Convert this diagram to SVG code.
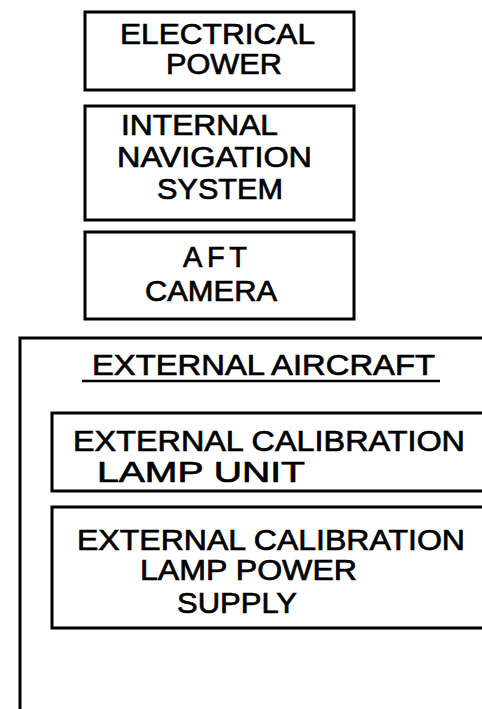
<svg xmlns="http://www.w3.org/2000/svg" width="482" height="709" viewBox="0 0 482 709">
<style>
.box{fill:none;stroke:#000;stroke-width:3;stroke-linejoin:miter}
.t{font-family:"Liberation Sans",Arial,sans-serif;font-size:29px;fill:#000;stroke:#000;stroke-width:0.7}
</style>
<rect width="482" height="709" fill="#fff"/>
<g id="electrical-power">
<rect class="box" x="85" y="12" width="269" height="78"/>
<text class="t" x="120" y="44" textLength="195" lengthAdjust="spacingAndGlyphs">ELECTRICAL</text>
<text class="t" x="166" y="74" textLength="116" lengthAdjust="spacingAndGlyphs">POWER</text>
</g>
<g id="internal-navigation-system">
<rect class="box" x="85" y="106" width="269" height="114"/>
<text class="t" x="121" y="135" textLength="157" lengthAdjust="spacingAndGlyphs">INTERNAL</text>
<text class="t" x="117" y="167" textLength="195" lengthAdjust="spacingAndGlyphs">NAVIGATION</text>
<text class="t" x="157" y="199" textLength="126" lengthAdjust="spacingAndGlyphs">SYSTEM</text>
</g>
<g id="aft-camera">
<rect class="box" x="85" y="232" width="269" height="87"/>
<text class="t" x="183" y="267" textLength="64" lengthAdjust="spacing">AFT</text>
<text class="t" x="145" y="301" textLength="132" lengthAdjust="spacingAndGlyphs">CAMERA</text>
</g>
<g id="external-aircraft">
<path class="box" d="M482,338 H20 V709"/>
<text class="t" x="92" y="375" textLength="343" lengthAdjust="spacingAndGlyphs">EXTERNAL AIRCRAFT</text>
<line x1="82" y1="381" x2="440" y2="381" stroke="#000" stroke-width="2.5"/>
</g>
<g id="lamp-unit">
<path class="box" d="M482,413 H52 V491 H482"/>
<text class="t" x="73" y="451" textLength="392" lengthAdjust="spacingAndGlyphs">EXTERNAL CALIBRATION</text>
<text class="t" x="97" y="482" textLength="208" lengthAdjust="spacingAndGlyphs">LAMP UNIT</text>
</g>
<g id="lamp-power-supply">
<path class="box" d="M482,507 H52 V628 H482"/>
<text class="t" x="77" y="550" textLength="388" lengthAdjust="spacingAndGlyphs">EXTERNAL CALIBRATION</text>
<text class="t" x="140" y="580" textLength="217" lengthAdjust="spacingAndGlyphs">LAMP POWER</text>
<text class="t" x="177" y="613" textLength="120" lengthAdjust="spacingAndGlyphs">SUPPLY</text>
</g>
<g id="connectors"></g>
</svg>
